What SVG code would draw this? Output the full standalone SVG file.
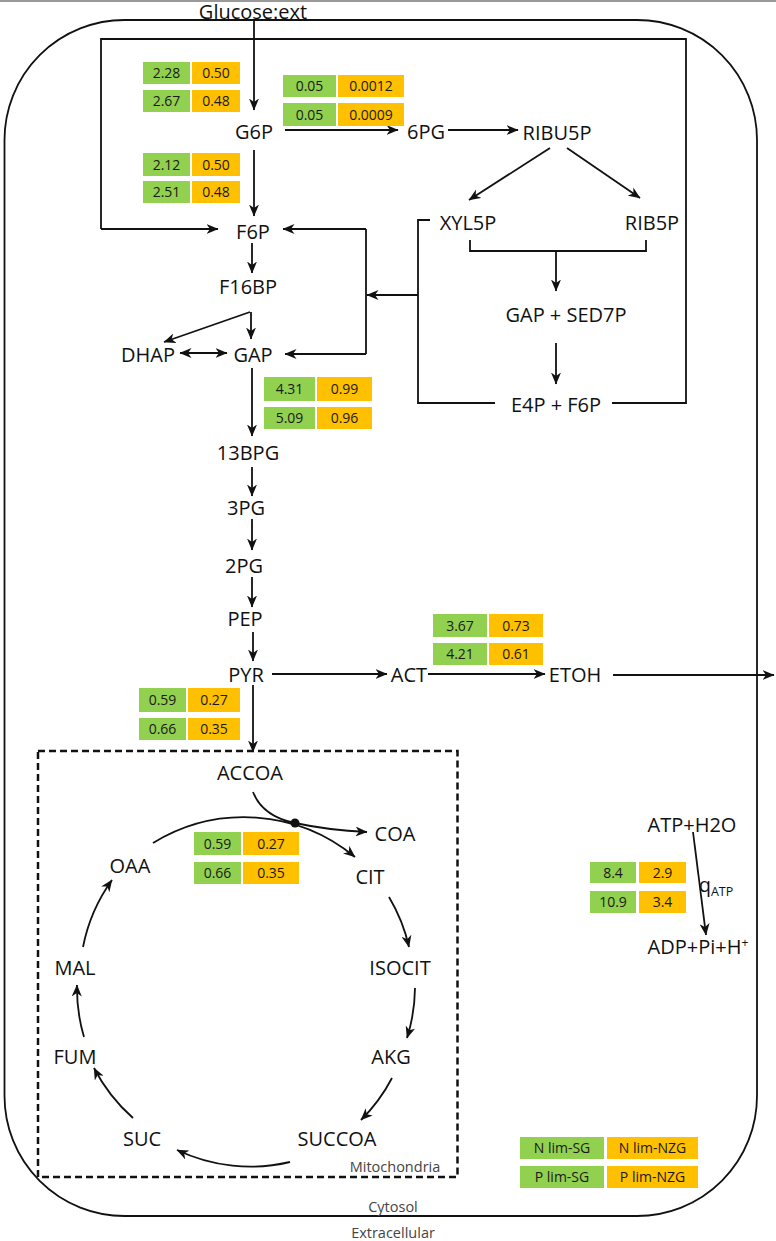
<svg xmlns="http://www.w3.org/2000/svg" width="776" height="1241" viewBox="0 0 776 1241">
<style>
.n{font-family:"Open Sans","Noto Sans","DejaVu Sans",sans-serif;font-size:20px;fill:#111;text-anchor:middle}
.b{font-family:"Open Sans","Noto Sans","DejaVu Sans",sans-serif;font-size:14px;fill:#1a1a1a;text-anchor:middle}
.s{font-family:"Open Sans","Noto Sans","DejaVu Sans",sans-serif;font-size:14.5px;fill:#444;text-anchor:middle}
.g{fill:#92D050}
.o{fill:#FFC000}
.c{fill:none;stroke:#111;stroke-width:1.8}
.a{fill:none;stroke:#111;stroke-width:1.8;marker-end:url(#ah)}
</style>
<defs>
<marker id="ah" viewBox="0 0 12 10" refX="11.5" refY="5" markerWidth="12" markerHeight="10" orient="auto" markerUnits="userSpaceOnUse">
<path d="M0,0 L12,5 L0,10 L3.5,5 z" fill="#111"/>
</marker>
<marker id="as" viewBox="0 0 12 10" refX="11.5" refY="5" markerWidth="12" markerHeight="10" orient="auto-start-reverse" markerUnits="userSpaceOnUse">
<path d="M0,0 L12,5 L0,10 L3.5,5 z" fill="#111"/>
</marker>
</defs>
<rect width="776" height="1241" fill="#fff"/>
<line x1="0" y1="1" x2="776" y2="1" stroke="#777" stroke-width="1.5"/>
<g id="cell">
<rect x="4.5" y="20" width="752.5" height="1196" rx="120" ry="120" fill="none" stroke="#111" stroke-width="1.8"/>
<text class="s" x="393" y="1212">Cytosol</text>
<text class="s" x="393" y="1238">Extracellular</text>
</g>
<g id="mitochondria">
<rect x="38" y="751" width="419.5" height="426" fill="none" stroke="#111" stroke-width="2.5" stroke-dasharray="7,4"/>
<text class="s" x="395" y="1172">Mitochondria</text>
</g>
<g id="connectors">
<line class="a" x1="254" y1="21" x2="254" y2="110"/>
<line class="a" x1="254" y1="150" x2="254" y2="216"/>
<polyline class="c" points="612,403 686,403 686,39 101,39 101,229"/>
<line class="a" x1="101" y1="229" x2="218" y2="229"/>
<line class="a" x1="285" y1="130" x2="398" y2="130"/>
<line class="a" x1="448" y1="130" x2="518" y2="130"/>
<line class="a" x1="550" y1="148" x2="469" y2="200"/>
<line class="a" x1="567" y1="148" x2="640" y2="198"/>
<polyline class="c" points="470,240 470,251 646,251 646,240"/>
<line class="a" x1="556" y1="251" x2="556" y2="291"/>
<line class="a" x1="556" y1="343" x2="556" y2="384"/>
<polyline class="c" points="430,220 418,220 418,403 495,403"/>
<line class="a" x1="418" y1="295" x2="367" y2="295"/>
<line class="a" x1="366" y1="229" x2="283" y2="229"/>
<line class="c" x1="366" y1="229" x2="366" y2="354"/>
<line class="a" x1="366" y1="354" x2="285" y2="354"/>
<line class="a" x1="252" y1="243" x2="252" y2="273"/>
<path class="a" d="M250,312 L164,342"/>
<line class="a" x1="251" y1="312" x2="251" y2="339"/>
<line class="a" x1="180" y1="353" x2="227" y2="353" marker-start="url(#as)"/>
<line class="a" x1="252" y1="368" x2="252" y2="436"/>
<line class="a" x1="252" y1="467" x2="252" y2="496"/>
<line class="a" x1="252" y1="519" x2="252" y2="550"/>
<line class="a" x1="252" y1="577" x2="252" y2="607"/>
<line class="a" x1="253" y1="632" x2="253" y2="661"/>
<line class="a" x1="272" y1="674" x2="387" y2="674"/>
<line class="a" x1="428" y1="674" x2="545" y2="674"/>
<line class="a" x1="613" y1="675" x2="774" y2="675"/>
<line class="a" x1="253" y1="685" x2="253" y2="752"/>
<path class="a" d="M253,792 C260,810 275,819 295,823 C318,828 345,831 367,832"/>
<path class="a" d="M153,843 A174,174 0 0 1 355,857"/>
<circle cx="295" cy="823" r="4.5" fill="#111"/>
<path class="a" d="M389,897 A171,171 0 0 1 409,947"/>
<path class="a" d="M415,988 A171,171 0 0 1 407,1038"/>
<path class="a" d="M392,1078 A171,171 0 0 1 361,1120"/>
<path class="a" d="M290,1162 A171,171 0 0 1 177,1150"/>
<path class="a" d="M133,1118 A171,171 0 0 1 94,1068"/>
<path class="a" d="M84,1037 A171,171 0 0 1 77,985"/>
<path class="a" d="M83,947 A171,171 0 0 1 112,880"/>
<line class="a" x1="693" y1="832" x2="706" y2="935"/>
</g>
<g id="glucose"><text class="n" x="253" y="19" font-size="18">Glucose:ext</text></g>
<g id="g6p"><text class="n" x="254" y="139">G6P</text></g>
<g id="6pg"><text class="n" x="426" y="139">6PG</text></g>
<g id="ribu5p"><text class="n" x="557" y="140">RIBU5P</text></g>
<g id="xyl5p"><text class="n" x="468" y="230">XYL5P</text></g>
<g id="rib5p"><text class="n" x="652" y="230">RIB5P</text></g>
<g id="gap-sed7p"><text class="n" x="566" y="322">GAP + SED7P</text></g>
<g id="e4p-f6p"><text class="n" x="556" y="412">E4P + F6P</text></g>
<g id="f6p"><text class="n" x="253" y="239">F6P</text></g>
<g id="f16bp"><text class="n" x="248" y="294">F16BP</text></g>
<g id="dhap"><text class="n" x="148" y="362">DHAP</text></g>
<g id="gap"><text class="n" x="253" y="362">GAP</text></g>
<g id="13bpg"><text class="n" x="248" y="460">13BPG</text></g>
<g id="3pg"><text class="n" x="246" y="515">3PG</text></g>
<g id="2pg"><text class="n" x="244" y="573">2PG</text></g>
<g id="pep"><text class="n" x="245" y="626">PEP</text></g>
<g id="pyr"><text class="n" x="246" y="682">PYR</text></g>
<g id="act"><text class="n" x="409" y="682">ACT</text></g>
<g id="etoh"><text class="n" x="575" y="682">ETOH</text></g>
<g id="accoa"><text class="n" x="250" y="780">ACCOA</text></g>
<g id="coa"><text class="n" x="395" y="841">COA</text></g>
<g id="cit"><text class="n" x="370" y="884">CIT</text></g>
<g id="oaa"><text class="n" x="130" y="873">OAA</text></g>
<g id="isocit"><text class="n" x="400" y="975">ISOCIT</text></g>
<g id="akg"><text class="n" x="391" y="1064">AKG</text></g>
<g id="succoa"><text class="n" x="337" y="1146">SUCCOA</text></g>
<g id="suc"><text class="n" x="142" y="1146">SUC</text></g>
<g id="fum"><text class="n" x="75" y="1064">FUM</text></g>
<g id="mal"><text class="n" x="75" y="975">MAL</text></g>
<g id="atp"><text class="n" x="692" y="832">ATP+H2O</text></g>
<g id="adp"><text class="n" x="698" y="954">ADP+Pi+H<tspan font-size="12" dy="-7">+</tspan></text></g>
<g id="qatp"><text class="n" x="716" y="892" text-anchor="start">q<tspan font-size="12.5" dy="4">ATP</tspan></text></g>
<g id="flux-g6p">
<rect class="g" x="143" y="62" width="47" height="22"/><rect class="o" x="192" y="62" width="48" height="22"/>
<rect class="g" x="143" y="90" width="47" height="22"/><rect class="o" x="192" y="90" width="48" height="22"/>
<text class="b" x="166.5" y="78">2.28</text><text class="b" x="216" y="78">0.50</text>
<text class="b" x="166.5" y="106">2.67</text><text class="b" x="216" y="106">0.48</text>
</g>
<g id="flux-f6p">
<rect class="g" x="143" y="153" width="47" height="23"/><rect class="o" x="192" y="153" width="48" height="23"/>
<rect class="g" x="143" y="181" width="47" height="22"/><rect class="o" x="192" y="181" width="48" height="22"/>
<text class="b" x="166.5" y="169.5">2.12</text><text class="b" x="216" y="169.5">0.50</text>
<text class="b" x="166.5" y="197">2.51</text><text class="b" x="216" y="197">0.48</text>
</g>
<g id="flux-ppp">
<rect class="g" x="283" y="75" width="53" height="22"/><rect class="o" x="338" y="75" width="66" height="22"/>
<rect class="g" x="283" y="103" width="53" height="23"/><rect class="o" x="338" y="103" width="66" height="23"/>
<text class="b" x="309.5" y="91">0.05</text><text class="b" x="371" y="91">0.0012</text>
<text class="b" x="309.5" y="119.5">0.05</text><text class="b" x="371" y="119.5">0.0009</text>
</g>
<g id="flux-gap">
<rect class="g" x="264" y="377" width="51" height="24"/><rect class="o" x="317" y="377" width="55" height="24"/>
<rect class="g" x="264" y="407" width="51" height="22"/><rect class="o" x="317" y="407" width="55" height="22"/>
<text class="b" x="289.5" y="394">4.31</text><text class="b" x="344.5" y="394">0.99</text>
<text class="b" x="289.5" y="423">5.09</text><text class="b" x="344.5" y="423">0.96</text>
</g>
<g id="flux-act">
<rect class="g" x="433" y="614" width="54" height="23"/><rect class="o" x="489" y="614" width="54" height="23"/>
<rect class="g" x="433" y="643" width="54" height="22"/><rect class="o" x="489" y="643" width="54" height="22"/>
<text class="b" x="460" y="630.5">3.67</text><text class="b" x="516" y="630.5">0.73</text>
<text class="b" x="460" y="659">4.21</text><text class="b" x="516" y="659">0.61</text>
</g>
<g id="flux-pyr">
<rect class="g" x="139" y="688" width="47" height="24"/><rect class="o" x="188" y="688" width="52" height="24"/>
<rect class="g" x="139" y="718" width="47" height="22"/><rect class="o" x="188" y="718" width="52" height="22"/>
<text class="b" x="162.5" y="705">0.59</text><text class="b" x="214" y="705">0.27</text>
<text class="b" x="162.5" y="734">0.66</text><text class="b" x="214" y="734">0.35</text>
</g>
<g id="flux-tca">
<rect class="g" x="194" y="832" width="47" height="23"/><rect class="o" x="243" y="832" width="56" height="23"/>
<rect class="g" x="194" y="862" width="47" height="22"/><rect class="o" x="243" y="862" width="56" height="22"/>
<text class="b" x="217.5" y="848.5">0.59</text><text class="b" x="271" y="848.5">0.27</text>
<text class="b" x="217.5" y="878">0.66</text><text class="b" x="271" y="878">0.35</text>
</g>
<g id="flux-atp">
<rect class="g" x="590" y="862" width="46" height="21"/><rect class="o" x="639" y="862" width="47" height="21"/>
<rect class="g" x="590" y="891" width="46" height="22"/><rect class="o" x="639" y="891" width="47" height="22"/>
<text class="b" x="613" y="877.5">8.4</text><text class="b" x="662.5" y="877.5">2.9</text>
<text class="b" x="613" y="907">10.9</text><text class="b" x="662.5" y="907">3.4</text>
</g>
<g id="legend">
<rect class="g" x="520" y="1137" width="84" height="22"/><rect class="o" x="607" y="1137" width="91" height="22"/>
<rect class="g" x="520" y="1166" width="84" height="22"/><rect class="o" x="607" y="1166" width="91" height="22"/>
<text class="b" x="562" y="1153">N lim-SG</text><text class="b" x="652.5" y="1153">N lim-NZG</text>
<text class="b" x="562" y="1182">P lim-SG</text><text class="b" x="652.5" y="1182">P lim-NZG</text>
</g>
</svg>
